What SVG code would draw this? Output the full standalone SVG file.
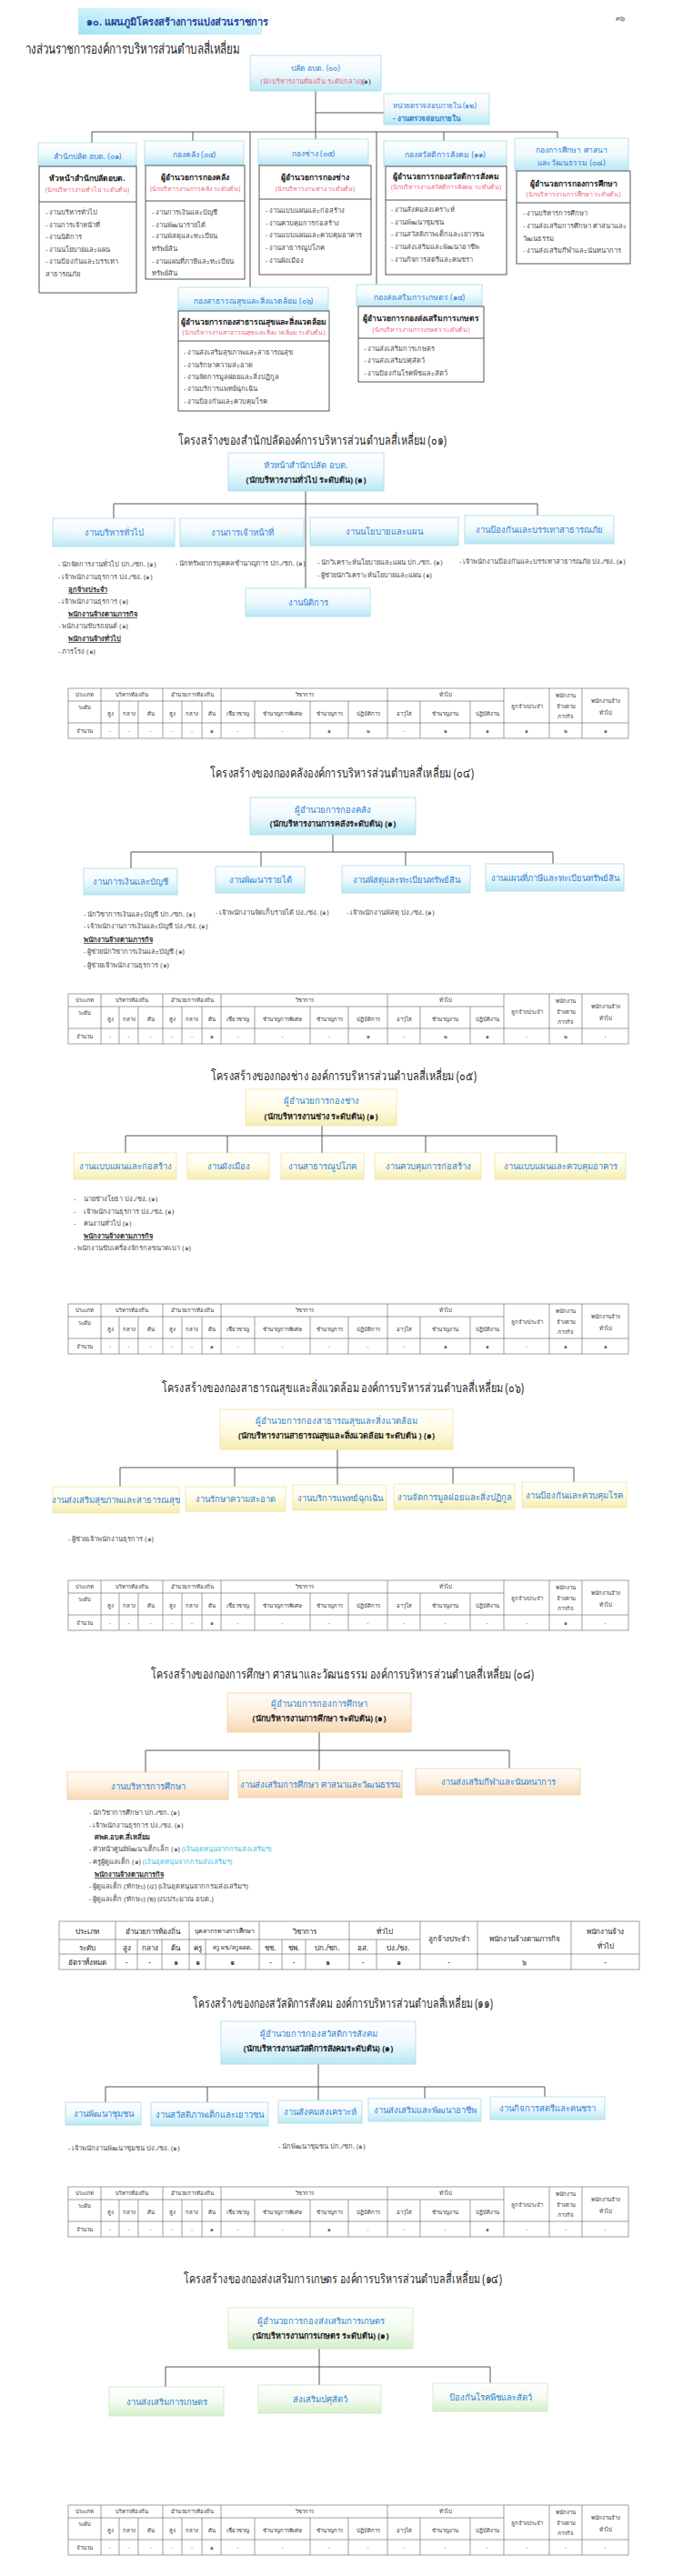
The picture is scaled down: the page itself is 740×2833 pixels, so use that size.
<svg xmlns="http://www.w3.org/2000/svg" xmlns:xlink="http://www.w3.org/1999/xlink" width="740" height="2833" viewBox="0 0 740 2833">
<style>
text{font-family:"Noto Sans","DejaVu Sans",sans-serif;dominant-baseline:central}
.c{text-anchor:middle}
.ti{font-size:14px;fill:#1f1f1f}
.bl{font-size:9.5px;fill:#3384d6}
.hb{font-size:8.5px;font-weight:bold;fill:#222}
.pk{font-size:7px;fill:#ee5f78}
.li{font-size:7.5px;fill:#4a4a4a}
.lu{font-size:7.5px;font-weight:bold;fill:#333;text-decoration:underline}
.lb{font-size:7.5px;font-weight:bold;fill:#333}
.cy{fill:#3cc0e0}
.tt{font-size:6px;fill:#333}
.t9{font-size:8px;fill:#222}
.h1{font-size:9.5px;fill:#3384d6}
.h2{font-size:9px;font-weight:bold;fill:#222}
.bx{fill:url(#gc);stroke:#a5dbe9;stroke-width:.8}
.by{fill:url(#gy);stroke:#efe3a0;stroke-width:.8}
.bo{fill:url(#go);stroke:#f1cfa4;stroke-width:.8}
.bg{fill:url(#gg);stroke:#cde6c4;stroke-width:.8}
.wb{fill:#fff;stroke:#555;stroke-width:1}
.ln{stroke:#555;stroke-width:1;fill:none}
.tl{stroke:#777;stroke-width:.7;fill:none}
</style>
<defs>
<linearGradient id="gc" x1="0" y1="0" x2="0" y2="1"><stop offset="0" stop-color="#ffffff"/><stop offset="0.5" stop-color="#eef9fd"/><stop offset="1" stop-color="#b9e8f5"/></linearGradient>
<linearGradient id="gy" x1="0" y1="0" x2="0" y2="1"><stop offset="0" stop-color="#ffffff"/><stop offset="0.5" stop-color="#fffbe3"/><stop offset="1" stop-color="#f6edb2"/></linearGradient>
<linearGradient id="go" x1="0" y1="0" x2="0" y2="1"><stop offset="0" stop-color="#fffdf9"/><stop offset="0.5" stop-color="#fdf0df"/><stop offset="1" stop-color="#f7d8b2"/></linearGradient>
<linearGradient id="gg" x1="0" y1="0" x2="0" y2="1"><stop offset="0" stop-color="#ffffff"/><stop offset="0.5" stop-color="#f3fbf0"/><stop offset="1" stop-color="#d5efcb"/></linearGradient>
<linearGradient id="gt" x1="0" y1="1" x2="1" y2="0"><stop offset="0" stop-color="#9fe3f5"/><stop offset="0.6" stop-color="#d6f3fb"/><stop offset="1" stop-color="#ffffff"/></linearGradient>
<g id="tbl">
<rect class="tl" x="75" y="0" width="616" height="55"/>
<path class="tl" d="M75 14H554M75 38H691M111 0V55M179 0V55M243 0V55M426 0V55M554 0V55M604 0V55M640 0V55M131 14V55M152 14V55M200 14V55M222 14V55M280 14V55M341 14V55M383 14V55M462 14V55M517 14V55"/>
<g class="tt c">
<text x="93" y="7">ประเภท</text><text x="145" y="7">บริหารท้องถิ่น</text><text x="211" y="7">อำนวยการท้องถิ่น</text><text x="334.5" y="7">วิชาการ</text><text x="490" y="7">ทั่วไป</text>
<text x="579" y="20">ลูกจ้างประจำ</text><text x="622" y="8">พนักงาน</text><text x="622" y="20">จ้างตาม</text><text x="622" y="31">ภารกิจ</text><text x="665.5" y="14">พนักงานจ้าง</text><text x="665.5" y="27">ทั่วไป</text>
<text x="93" y="21">ระดับ</text><text x="121" y="28">สูง</text><text x="141.5" y="28">กลาง</text><text x="165.5" y="28">ต้น</text><text x="189.5" y="28">สูง</text><text x="211" y="28">กลาง</text><text x="232.5" y="28">ต้น</text><text x="261.5" y="28">เชี่ยวชาญ</text><text x="310.5" y="28">ชำนาญการพิเศษ</text><text x="362" y="28">ชำนาญการ</text><text x="404.5" y="28">ปฏิบัติการ</text><text x="444" y="28">อาวุโส</text><text x="489.5" y="28">ชำนาญงาน</text><text x="535.5" y="28">ปฏิบัติงาน</text>
<text x="93" y="46.5">จำนวน</text>
</g>
</g>
</defs>
<rect width="740" height="2833" fill="#ffffff"/>

<!-- ===== Overview chart ===== -->
<g id="page-header">
<rect x="86" y="9" width="202" height="29" fill="url(#gt)"/>
<text x="95" y="23" style="font-size:11px;font-weight:bold;fill:#23449a">๑๐. แผนภูมิโครงสร้างการแบ่งส่วนราชการ</text>
<text x="682" y="19" class="c" style="font-size:8px;fill:#555">๓๖</text>
<text x="28" y="53" style="font-size:15px;fill:#1f1f1f" textLength="236" lengthAdjust="spacingAndGlyphs">างส่วนราชการองค์การบริหารส่วนตำบลสี่เหลี่ยม</text>
</g>

<g id="overview-connectors">
<path class="ln" d="M347 100V145M347 124H422M101 145H613M101 145V157M212 145V155M347 145V153M488 145V155M613 145V152M275 145V316M414 145V313"/>
</g>

<g id="ov-palad">
<rect class="bx" x="275" y="61" width="144" height="39"/>
<text x="347" y="74" class="c" style="font-size:8.5px;fill:#3384d6">ปลัด  อบต. (๐๐)</text>
<text x="347" y="89" class="c" style="font-size:7.5px"><tspan fill="#ee5f78">(นักบริหารงานท้องถิ่น ระดับกลาง)</tspan><tspan fill="#222">(๑)</tspan></text>
</g>
<g id="ov-audit">
<rect class="bx" x="422" y="103" width="116" height="34"/>
<text x="432" y="115" style="font-size:8px;fill:#3384d6">หน่วยตรวจสอบภายใน (๑๒)</text>
<text x="432" y="129" style="font-size:8px;font-weight:bold;fill:#3384d6">- งานตรวจสอบภายใน</text>
</g>

<g id="ov-01">
<rect class="bx" x="42" y="157" width="108" height="26"/>
<text x="96" y="171" class="c bl" style="font-size:8.5px">สำนักปลัด อบต. (๐๑)</text>
<rect class="wb" x="43" y="183" width="107" height="139"/>
<line class="ln" x1="43" y1="222" x2="150" y2="222"/>
<text x="96" y="195" class="c hb">หัวหน้าสำนักปลัดอบต.</text>
<text x="96" y="208" class="c pk">(นักบริหารงานทั่วไป ระดับต้น)</text>
<g class="li"><text x="50" y="233">- งานบริหารทั่วไป</text><text x="50" y="247">- งานการเจ้าหน้าที่</text><text x="50" y="260">- งานนิติการ</text><text x="50" y="274">- งานนโยบายและแผน</text><text x="50" y="287">- งานป้องกันและบรรเทา</text><text x="50" y="301">สาธารณภัย</text></g>
</g>
<g id="ov-04">
<rect class="bx" x="159" y="155" width="109" height="27"/>
<text x="213.5" y="169" class="c bl" style="font-size:8.5px">กองคลัง (๐๔)</text>
<rect class="wb" x="160" y="182" width="109" height="125"/>
<line class="ln" x1="160" y1="221" x2="269" y2="221"/>
<text x="214.5" y="194" class="c hb">ผู้อำนวยการกองคลัง</text>
<text x="214.5" y="207" class="c pk">(นักบริหารงานการคลัง ระดับต้น)</text>
<g class="li"><text x="167" y="233">- งานการเงินและบัญชี</text><text x="167" y="247">- งานพัฒนารายได้</text><text x="167" y="259">- งานพัสดุและทะเบียน</text><text x="167" y="273">ทรัพย์สิน</text><text x="167" y="287">- งานแผนที่ภาษีและทะเบียน</text><text x="167" y="300">ทรัพย์สิน</text></g>
</g>
<g id="ov-05">
<rect class="bx" x="284" y="153" width="121" height="29"/>
<text x="344.5" y="168" class="c bl" style="font-size:8.5px">กองช่าง (๐๕)</text>
<rect class="wb" x="285" y="182" width="123" height="120"/>
<line class="ln" x1="285" y1="219" x2="408" y2="219"/>
<text x="346.5" y="194" class="c hb">ผู้อำนวยการกองช่าง</text>
<text x="346.5" y="207" class="c pk">(นักบริหารงานช่าง ระดับต้น)</text>
<g class="li"><text x="292" y="231">- งานแบบแผนและก่อสร้าง</text><text x="292" y="245">- งานควบคุมการก่อสร้าง</text><text x="292" y="258">- งานแบบแผนและควบคุมอาคาร</text><text x="292" y="272">- งานสาธารณูปโภค</text><text x="292" y="286">- งานผังเมือง</text></g>
</g>
<g id="ov-11">
<rect class="bx" x="422" y="155" width="135" height="28"/>
<text x="489.5" y="169" class="c bl" style="font-size:8.5px">กองสวัสดิการสังคม (๑๑)</text>
<rect class="wb" x="424" y="183" width="133" height="119"/>
<line class="ln" x1="424" y1="220" x2="557" y2="220"/>
<text x="490.5" y="193" class="c hb">ผู้อำนวยการกองสวัสดิการสังคม</text>
<text x="490.5" y="205" class="c pk">(นักบริหารงานสวัสดิการสังคม ระดับต้น)</text>
<g class="li"><text x="430" y="230">- งานสังคมสงเคราะห์</text><text x="430" y="244">- งานพัฒนาชุมชน</text><text x="430" y="257">- งานสวัสดิภาพเด็กและเยาวชน</text><text x="430" y="271">- งานส่งเสริมและพัฒนาอาชีพ</text><text x="430" y="285">- งานกิจการสตรีและคนชรา</text></g>
</g>
<g id="ov-08">
<rect class="bx" x="566" y="152" width="125" height="36"/>
<text x="628.5" y="164" class="c bl" style="font-size:8.5px">กองการศึกษา ศาสนา</text>
<text x="628.5" y="178" class="c bl" style="font-size:8.5px">และวัฒนธรรม (๐๘)</text>
<rect class="wb" x="568" y="188" width="125" height="102"/>
<line class="ln" x1="568" y1="223" x2="693" y2="223"/>
<text x="630.5" y="201" class="c hb">ผู้อำนวยการกองการศึกษา</text>
<text x="630.5" y="213" class="c pk">(นักบริหารงานการศึกษา ระดับต้น)</text>
<g class="li"><text x="575" y="234">- งานบริหารการศึกษา</text><text x="575" y="248">- งานส่งเสริมการศึกษา ศาสนาและ</text><text x="575" y="262">วัฒนธรรม</text><text x="575" y="275">- งานส่งเสริมกีฬาและนันทนาการ</text></g>
</g>
<g id="ov-06">
<rect class="bx" x="196" y="316" width="165" height="26"/>
<text x="278.5" y="330" class="c bl" style="font-size:8.5px">กองสาธารณสุขและสิ่งแวดล้อม (๐๖)</text>
<rect class="wb" x="196" y="342" width="166" height="110"/>
<line class="ln" x1="196" y1="375" x2="362" y2="375"/>
<text x="279" y="353" class="c hb">ผู้อำนวยการกองสาธารณสุขและสิ่งแวดล้อม</text>
<text x="279" y="365" class="c pk">(นักบริหารงานสาธารณสุขและสิ่งแวดล้อม ระดับต้น)</text>
<g class="li"><text x="202" y="387">- งานส่งเสริมสุขภาพและสาธารณสุข</text><text x="202" y="401">- งานรักษาความสะอาด</text><text x="202" y="414">- งานจัดการมูลฝอยและสิ่งปฏิกูล</text><text x="202" y="427">- งานบริการแพทย์ฉุกเฉิน</text><text x="202" y="441">- งานป้องกันและควบคุมโรค</text></g>
</g>
<g id="ov-14">
<rect class="bx" x="392" y="313" width="138" height="24"/>
<text x="461" y="326" class="c bl" style="font-size:8.5px">กองส่งเสริมการเกษตร (๑๔)</text>
<rect class="wb" x="394" y="337" width="138" height="83"/>
<line class="ln" x1="394" y1="372" x2="532" y2="372"/>
<text x="463" y="349" class="c hb">ผู้อำนวยการกองส่งเสริมการเกษตร</text>
<text x="463" y="362" class="c pk">(นักบริหารงานการเกษตร ระดับต้น)</text>
<g class="li"><text x="400" y="383">- งานส่งเสริมการเกษตร</text><text x="400" y="396">- งานส่งเสริมปศุสัตว์</text><text x="400" y="410">- งานป้องกันโรคพืชและสัตว์</text></g>
</g>

<!-- ===== Section 01 ===== -->
<text x="343.5" y="483" class="c ti" textLength="295" lengthAdjust="spacingAndGlyphs">โครงสร้างของสำนักปลัดองค์การบริหารส่วนตำบลสี่เหลี่ยม (๐๑)</text>
<g id="s01-connectors"><path class="ln" d="M336 540V647M125 554H591M125 554V570M591 554V567"/></g>
<g id="s01-head"><rect class="bx" x="251" y="498" width="171" height="42"/>
<text x="336.5" y="511" class="c h1">หัวหน้าสำนักปลัด  อบต.</text><text x="336.5" y="527" class="c h2">(นักบริหารงานทั่วไป ระดับต้น) (๑)</text></g>
<g id="s01-n1"><rect class="bx" x="58" y="570" width="134" height="31"/><text x="125" y="585" class="c bl">งานบริหารทั่วไป</text></g>
<g id="s01-n2"><rect class="bx" x="198" y="570" width="136" height="31"/><text x="266" y="585" class="c bl">งานการเจ้าหน้าที่</text></g>
<g id="s01-n3"><rect class="bx" x="341" y="569" width="163" height="31"/><text x="422.5" y="584" class="c bl">งานนโยบายและแผน</text></g>
<g id="s01-n4"><rect class="bx" x="511" y="567" width="164" height="31"/><text x="593" y="582" class="c bl">งานป้องกันและบรรเทาสาธารณภัย</text></g>
<g id="s01-n5"><rect class="bx" x="270" y="647" width="137" height="31"/><text x="338.5" y="662" class="c bl">งานนิติการ</text></g>
<g id="s01-staff">
<g class="li"><text x="64" y="620">- นักจัดการงานทั่วไป ปก./ชก. (๑)</text><text x="64" y="634">- เจ้าพนักงานธุรการ ปง./ชง. (๑)</text><text x="64" y="661">- เจ้าพนักงานธุรการ    (๑)</text><text x="64" y="688">- พนักงานขับรถยนต์ (๑)</text><text x="64" y="716">- ภารโรง (๑)</text>
<text x="193" y="619">- นักทรัพยากรบุคคลชำนาญการ ปก./ชก. (๑)</text>
<text x="349" y="618">- นักวิเคราะห์นโยบายและแผน ปก./ชก. (๑)</text><text x="349" y="632">- ผู้ช่วยนักวิเคราะห์นโยบายและแผน  (๑)</text>
<text x="505" y="617">- เจ้าพนักงานป้องกันและบรรเทาสาธารณภัย ปง./ชง. (๑)</text></g>
<text x="75" y="648" class="lu">ลูกจ้างประจำ</text><text x="75" y="675" class="lu">พนักงานจ้างตามภารกิจ</text><text x="75" y="702" class="lu">พนักงานจ้างทั่วไป</text>
</g>
<g id="s01-table"><use href="#tbl" y="757"/>
<g class="tt c"><text x="121" y="803.5">-</text><text x="141.5" y="803.5">-</text><text x="165.5" y="803.5">-</text><text x="189.5" y="803.5">-</text><text x="211" y="803.5">-</text><text x="232.5" y="803.5">๑</text><text x="261.5" y="803.5">-</text><text x="310.5" y="803.5">-</text><text x="362" y="803.5">๑</text><text x="404.5" y="803.5">๒</text><text x="444" y="803.5">-</text><text x="489.5" y="803.5">๑</text><text x="535.5" y="803.5">๑</text><text x="579" y="803.5">๑</text><text x="622" y="803.5">๒</text><text x="665.5" y="803.5">๑</text></g></g>

<!-- ===== Section 04 ===== -->
<text x="376" y="849" class="c ti" textLength="290" lengthAdjust="spacingAndGlyphs">โครงสร้างของกองคลังองค์การบริหารส่วนตำบลสี่เหลี่ยม (๐๔)</text>
<g id="s04-connectors"><path class="ln" d="M366 918V937M144 937H608M144 937V955M287 937V953M446 937V952M608 937V950"/></g>
<g id="s04-head"><rect class="bx" x="275" y="877" width="182" height="41"/>
<text x="366" y="890" class="c h1">ผู้อำนวยการกองคลัง</text><text x="366" y="905" class="c h2">(นักบริหารงานการคลังระดับต้น) (๑)</text></g>
<g id="s04-n1"><rect class="bx" x="92" y="955" width="103" height="29"/><text x="143.5" y="969.5" class="c bl">งานการเงินและบัญชี</text></g>
<g id="s04-n2"><rect class="bx" x="237" y="953" width="98" height="29"/><text x="286" y="967.5" class="c bl">งานพัฒนารายได้</text></g>
<g id="s04-n3"><rect class="bx" x="376" y="952" width="141" height="30"/><text x="446.5" y="967" class="c bl">งานพัสดุและทะเบียนทรัพย์สิน</text></g>
<g id="s04-n4"><rect class="bx" x="534" y="950" width="152" height="30"/><text x="610" y="965" class="c bl">งานแผนที่ภาษีและทะเบียนทรัพย์สิน</text></g>
<g id="s04-staff">
<g class="li"><text x="92" y="1005">- นักวิชาการเงินและบัญชี ปก./ชก. (๑)</text><text x="92" y="1018">- เจ้าพนักงานการเงินและบัญชี  ปง./ชง. (๑)</text><text x="92" y="1046">- ผู้ช่วยนักวิชาการเงินและบัญชี (๑)</text><text x="92" y="1061">- ผู้ช่วยเจ้าพนักงานธุรการ (๑)</text>
<text x="237" y="1003">- เจ้าพนักงานจัดเก็บรายได้ ปง./ชง. (๑)</text><text x="381" y="1003">- เจ้าพนักงานพัสดุ ปง./ชง. (๑)</text></g>
<text x="92" y="1033" class="lu">พนักงานจ้างตามภารกิจ</text>
</g>
<g id="s04-table"><use href="#tbl" y="1093"/>
<g class="tt c"><text x="121" y="1139.5">-</text><text x="141.5" y="1139.5">-</text><text x="165.5" y="1139.5">-</text><text x="189.5" y="1139.5">-</text><text x="211" y="1139.5">-</text><text x="232.5" y="1139.5">๑</text><text x="261.5" y="1139.5">-</text><text x="310.5" y="1139.5">-</text><text x="362" y="1139.5">-</text><text x="404.5" y="1139.5">๑</text><text x="444" y="1139.5">-</text><text x="489.5" y="1139.5">๒</text><text x="535.5" y="1139.5">๑</text><text x="579" y="1139.5">-</text><text x="622" y="1139.5">๒</text><text x="665.5" y="1139.5">-</text></g></g>

<!-- ===== Section 05 ===== -->
<text x="378" y="1182" class="c ti" textLength="292" lengthAdjust="spacingAndGlyphs">โครงสร้างของกองช่าง องค์การบริหารส่วนตำบลสี่เหลี่ยม (๐๕)</text>
<g id="s05-connectors"><path class="ln" d="M354 1238V1268M138 1249H612M138 1249V1268M250 1249V1268M468 1249V1268M612 1249V1268"/></g>
<g id="s05-head"><rect class="by" x="270" y="1198" width="166" height="40"/>
<text x="353" y="1210" class="c h1">ผู้อำนวยการกองช่าง</text><text x="353" y="1227" class="c h2">(นักบริหารงานช่าง ระดับต้น) (๑)</text></g>
<g id="s05-n1"><rect class="by" x="81" y="1268" width="113" height="29"/><text x="137.5" y="1282.5" class="c bl">งานแบบแผนและก่อสร้าง</text></g>
<g id="s05-n2"><rect class="by" x="206" y="1268" width="90" height="29"/><text x="251" y="1282.5" class="c bl">งานผังเมือง</text></g>
<g id="s05-n3"><rect class="by" x="309" y="1268" width="91" height="29"/><text x="354.5" y="1282.5" class="c bl">งานสาธารณูปโภค</text></g>
<g id="s05-n4"><rect class="by" x="412" y="1268" width="117" height="29"/><text x="470.5" y="1282.5" class="c bl">งานควบคุมการก่อสร้าง</text></g>
<g id="s05-n5"><rect class="by" x="544" y="1268" width="144" height="29"/><text x="616" y="1282.5" class="c bl">งานแบบแผนและควบคุมอาคาร</text></g>
<g id="s05-staff">
<g class="li"><text x="81" y="1318">-</text><text x="92" y="1318">นายช่างโยธา  ปง./ชง. (๑)</text><text x="81" y="1332">-</text><text x="92" y="1332">เจ้าพนักงานธุรการ ปง./ชง. (๑)</text><text x="81" y="1345">-</text><text x="92" y="1345">คนงานทั่วไป (๑)</text><text x="81" y="1372">- พนักงานขับเครื่องจักรกลขนาดเบา (๑)</text></g>
<text x="92" y="1359" class="lu">พนักงานจ้างตามภารกิจ</text>
</g>
<g id="s05-table"><use href="#tbl" y="1434"/>
<g class="tt c"><text x="121" y="1480.5">-</text><text x="141.5" y="1480.5">-</text><text x="165.5" y="1480.5">-</text><text x="189.5" y="1480.5">-</text><text x="211" y="1480.5">-</text><text x="232.5" y="1480.5">๑</text><text x="261.5" y="1480.5">-</text><text x="310.5" y="1480.5">-</text><text x="362" y="1480.5">-</text><text x="404.5" y="1480.5">-</text><text x="444" y="1480.5">-</text><text x="489.5" y="1480.5">๑</text><text x="535.5" y="1480.5">๑</text><text x="579" y="1480.5">-</text><text x="622" y="1480.5">๑</text><text x="665.5" y="1480.5">๑</text></g></g>

<!-- ===== Section 06 ===== -->
<text x="377" y="1525" class="c ti" textLength="398" lengthAdjust="spacingAndGlyphs">โครงสร้างของกองสาธารณสุขและสิ่งแวดล้อม องค์การบริหารส่วนตำบลสี่เหลี่ยม (๐๖)</text>
<g id="s06-connectors"><path class="ln" d="M371 1594V1633M132 1614H631M132 1614V1635M258 1614V1635M498 1614V1632M631 1614V1630"/></g>
<g id="s06-head"><rect class="by" x="242" y="1550" width="256" height="44"/>
<text x="370" y="1562" class="c h1">ผู้อำนวยการกองสาธารณสุขและสิ่งแวดล้อม</text><text x="370" y="1578" class="c h2">(นักบริหารงานสาธารณสุขและสิ่งแวดล้อม ระดับต้น ) (๑)</text></g>
<g id="s06-n1"><rect class="by" x="58" y="1635" width="139" height="29"/><text x="127.5" y="1649.5" class="c bl">งานส่งเสริมสุขภาพและสาธารณสุข</text></g>
<g id="s06-n2"><rect class="by" x="204" y="1635" width="110" height="27"/><text x="259" y="1648.5" class="c bl">งานรักษาความสะอาด</text></g>
<g id="s06-n3"><rect class="by" x="322" y="1633" width="103" height="28"/><text x="373.5" y="1647" class="c bl">งานบริการแพทย์ฉุกเฉิน</text></g>
<g id="s06-n4"><rect class="by" x="433" y="1632" width="133" height="28"/><text x="499.5" y="1646" class="c bl">งานจัดการมูลฝอยและสิ่งปฏิกูล</text></g>
<g id="s06-n5"><rect class="by" x="574" y="1630" width="115" height="28"/><text x="631.5" y="1644" class="c bl">งานป้องกันและควบคุมโรค</text></g>
<g id="s06-staff"><text x="75" y="1692" class="li">- ผู้ช่วยเจ้าพนักงานธุรการ (๑)</text></g>
<g id="s06-table"><use href="#tbl" y="1738"/>
<g class="tt c"><text x="121" y="1784.5">-</text><text x="141.5" y="1784.5">-</text><text x="165.5" y="1784.5">-</text><text x="189.5" y="1784.5">-</text><text x="211" y="1784.5">-</text><text x="232.5" y="1784.5">๑</text><text x="261.5" y="1784.5">-</text><text x="310.5" y="1784.5">-</text><text x="362" y="1784.5">-</text><text x="404.5" y="1784.5">-</text><text x="444" y="1784.5">-</text><text x="489.5" y="1784.5">-</text><text x="535.5" y="1784.5">-</text><text x="579" y="1784.5">-</text><text x="622" y="1784.5">๑</text><text x="665.5" y="1784.5">-</text></g></g>

<!-- ===== Section 08 ===== -->
<text x="376.5" y="1840" class="c ti" textLength="421" lengthAdjust="spacingAndGlyphs">โครงสร้างของกองการศึกษา ศาสนาและวัฒนธรรม องค์การบริหารส่วนตำบลสี่เหลี่ยม (๐๘)</text>
<g id="s08-connectors"><path class="ln" d="M351 1905V1947M160 1925H560M160 1925V1949M560 1925V1945"/></g>
<g id="s08-head"><rect class="bo" x="250" y="1862" width="202" height="43"/>
<text x="351" y="1873" class="c h1">ผู้อำนวยการกองการศึกษา</text><text x="351" y="1889" class="c h2">(นักบริหารงานการศึกษา ระดับต้น) (๑)</text></g>
<g id="s08-n1"><rect class="bo" x="74" y="1949" width="177" height="30"/><text x="162.5" y="1964" class="c bl">งานบริหารการศึกษา</text></g>
<g id="s08-n2"><rect class="bo" x="262" y="1947" width="180" height="30"/><text x="352" y="1962" class="c bl">งานส่งเสริมการศึกษา ศาสนาและวัฒนธรรม</text></g>
<g id="s08-n3"><rect class="bo" x="457" y="1945" width="181" height="29"/><text x="547.5" y="1959.5" class="c bl">งานส่งเสริมกีฬาและนันทนาการ</text></g>
<g id="s08-staff">
<g class="li"><text x="98" y="1993">- นักวิชาการศึกษา ปก./ชก. (๑)</text><text x="98" y="2007">- เจ้าพนักงานธุรการ ปง./ชง. (๑)</text>
<text x="98" y="2033">- หัวหน้าศูนย์พัฒนาเด็กเล็ก  (๑) <tspan class="cy">(เงินอุดหนุนจากกรมส่งเสริมฯ)</tspan></text>
<text x="98" y="2047">- ครูผู้ดูแลเด็ก (๑) <tspan class="cy">(เงินอุดหนุนจากกรมส่งเสริมฯ)</tspan></text>
<text x="98" y="2074">- ผู้ดูแลเด็ก (ทักษะ) (๔) (เงินอุดหนุนจากกรมส่งเสริมฯ)</text>
<text x="98" y="2088">- ผู้ดูแลเด็ก (ทักษะ) (๒) (งบประมาณ อบต.)</text></g>
<text x="104" y="2020" class="lb">ศพด.อบต.สี่เหลี่ยม</text>
<text x="104" y="2061" class="lu">พนักงานจ้างตามภารกิจ</text>
</g>
<g id="s08-table">
<rect class="tl" x="65" y="2113" width="638" height="53"/>
<path class="tl" d="M65 2133H462M65 2149H703M127 2113V2166M208 2113V2166M285 2113V2166M384 2113V2166M462 2113V2166M525 2113V2166M628 2113V2166M151 2133V2166M178 2133V2166M226 2133V2166M310 2133V2166M336 2133V2166M414 2133V2166"/>
<g class="t9 c">
<text x="96" y="2123">ประเภท</text><text x="167.5" y="2123">อำนวยการท้องถิ่น</text><text x="246.5" y="2123" style="font-size:7px">บุคลากรทางการศึกษา</text><text x="334.5" y="2123">วิชาการ</text><text x="423" y="2123">ทั่วไป</text>
<text x="493.5" y="2131">ลูกจ้างประจำ</text><text x="576.5" y="2131">พนักงานจ้างตามภารกิจ</text><text x="665.5" y="2123">พนักงานจ้าง</text><text x="665.5" y="2139">ทั่วไป</text>
<text x="96" y="2141">ระดับ</text><text x="139" y="2141">สูง</text><text x="164.5" y="2141">กลาง</text><text x="193" y="2141">ต้น</text><text x="217" y="2141">ครู</text><text x="255.5" y="2141" style="font-size:6.5px">ครู ผช./ครู ผดด.</text><text x="297.5" y="2141">ชช.</text><text x="323" y="2141">ชพ.</text><text x="360" y="2141">ปก./ชก.</text><text x="399" y="2141">อส.</text><text x="438" y="2141">ปง./ชง.</text>
<text x="96" y="2157.5">อัตราทั้งหมด</text><text x="139" y="2157.5">-</text><text x="164.5" y="2157.5">-</text><text x="193" y="2157.5">๑</text><text x="217" y="2157.5">๑</text><text x="255.5" y="2157.5">๑</text><text x="297.5" y="2157.5">-</text><text x="323" y="2157.5">-</text><text x="360" y="2157.5">๑</text><text x="399" y="2157.5">-</text><text x="438" y="2157.5">๑</text><text x="493.5" y="2157.5">-</text><text x="576.5" y="2157.5">๖</text><text x="665.5" y="2157.5">-</text>
</g></g>

<!-- ===== Section 11 ===== -->
<text x="377" y="2202" class="c ti" textLength="330" lengthAdjust="spacingAndGlyphs">โครงสร้างของกองสวัสดิการสังคม องค์การบริหารส่วนตำบลสี่เหลี่ยม (๑๑)</text>
<g id="s11-connectors"><path class="ln" d="M350 2270V2310M116 2295H599M116 2295V2312M228 2295V2312M467 2295V2308M599 2295V2306"/></g>
<g id="s11-head"><rect class="bx" x="243" y="2223" width="214" height="47"/>
<text x="350" y="2236" class="c h1">ผู้อำนวยการกองสวัสดิการสังคม</text><text x="350" y="2252" class="c h2">(นักบริหารงานสวัสดิการสังคมระดับต้น) (๑)</text></g>
<g id="s11-n1"><rect class="bx" x="72" y="2312" width="83" height="25"/><text x="113.5" y="2324.5" class="c bl">งานพัฒนาชุมชน</text></g>
<g id="s11-n2"><rect class="bx" x="166" y="2312" width="129" height="26"/><text x="230.5" y="2325" class="c bl">งานสวัสดิภาพเด็กและเยาวชน</text></g>
<g id="s11-n3"><rect class="bx" x="306" y="2310" width="92" height="25"/><text x="352" y="2322.5" class="c bl">งานสังคมสงเคราะห์</text></g>
<g id="s11-n4"><rect class="bx" x="405" y="2308" width="124" height="25"/><text x="467" y="2320.5" class="c bl">งานส่งเสริมและพัฒนาอาชีพ</text></g>
<g id="s11-n5"><rect class="bx" x="539" y="2306" width="126" height="25"/><text x="602" y="2318.5" class="c bl">งานกิจการสตรีและคนชรา</text></g>
<g id="s11-staff" class="li"><text x="75" y="2362">- เจ้าพนักงานพัฒนาชุมชน ปง./ชง. (๑)</text><text x="306" y="2360">- นักพัฒนาชุมชน ปก./ชก. (๑)</text></g>
<g id="s11-table"><use href="#tbl" y="2405"/>
<g class="tt c"><text x="121" y="2451.5">-</text><text x="141.5" y="2451.5">-</text><text x="165.5" y="2451.5">-</text><text x="189.5" y="2451.5">-</text><text x="211" y="2451.5">-</text><text x="232.5" y="2451.5">๑</text><text x="261.5" y="2451.5">-</text><text x="310.5" y="2451.5">-</text><text x="362" y="2451.5">๑</text><text x="404.5" y="2451.5">-</text><text x="444" y="2451.5">-</text><text x="489.5" y="2451.5">-</text><text x="535.5" y="2451.5">๑</text><text x="579" y="2451.5">-</text><text x="622" y="2451.5">-</text><text x="665.5" y="2451.5">-</text></g></g>

<!-- ===== Section 14 ===== -->
<text x="377" y="2505" class="c ti" textLength="350" lengthAdjust="spacingAndGlyphs">โครงสร้างของกองส่งเสริมการเกษตร องค์การบริหารส่วนตำบลสี่เหลี่ยม (๑๔)</text>
<g id="s14-connectors"><path class="ln" d="M351 2583V2623M182 2603H539M182 2603V2625M539 2603V2621"/></g>
<g id="s14-head"><rect class="bg" x="251" y="2538" width="203" height="45"/>
<text x="352.5" y="2552" class="c h1">ผู้อำนวยการกองส่งเสริมการเกษตร</text><text x="352.5" y="2568" class="c h2">(นักบริหารงานการเกษตร ระดับต้น)  (๑)</text></g>
<g id="s14-n1"><rect class="bg" x="120" y="2625" width="126" height="32"/><text x="183" y="2641" class="c bl">งานส่งเสริมการเกษตร</text></g>
<g id="s14-n2"><rect class="bg" x="284" y="2623" width="135" height="31"/><text x="351.5" y="2638.5" class="c bl">ส่งเสริมปศุสัตว์</text></g>
<g id="s14-n3"><rect class="bg" x="476" y="2621" width="126" height="31"/><text x="539" y="2636.5" class="c bl">ป้องกันโรคพืชและสัตว์</text></g>
<g id="s14-table"><use href="#tbl" y="2755"/>
<g class="tt c"><text x="121" y="2801.5">-</text><text x="141.5" y="2801.5">-</text><text x="165.5" y="2801.5">-</text><text x="189.5" y="2801.5">-</text><text x="211" y="2801.5">-</text><text x="232.5" y="2801.5">๑</text><text x="261.5" y="2801.5">-</text><text x="310.5" y="2801.5">-</text><text x="362" y="2801.5">-</text><text x="404.5" y="2801.5">-</text><text x="444" y="2801.5">-</text><text x="489.5" y="2801.5">-</text><text x="535.5" y="2801.5">-</text><text x="579" y="2801.5">-</text><text x="622" y="2801.5">-</text><text x="665.5" y="2801.5">-</text></g></g>
</svg>
